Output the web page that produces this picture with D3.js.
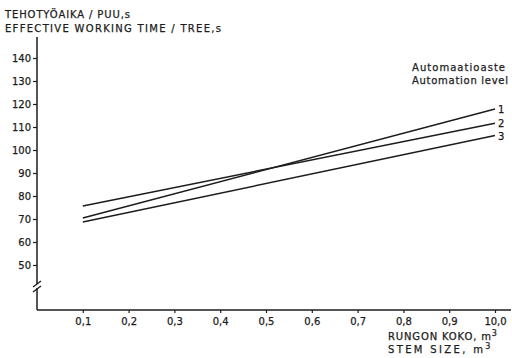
<!DOCTYPE html>
<html>
<head>
<meta charset="utf-8">
<script src="https://cdn.jsdelivr.net/npm/d3@7"></script>
<style>
  body { margin: 0; background: #fff; }
  svg text { font-family: 'DejaVu Sans', sans-serif; fill: #1c1c1c; stroke: #1c1c1c; stroke-width: 0.25px; }
</style>
</head>
<body>
<div id="viz"></div>
<script>
const width = 512;
const height = 358;

const ink = '#1c1c1c';

// Stem size categories (the last one is printed as 10,0 in the original)
const stemSizes = ['0,1', '0,2', '0,3', '0,4', '0,5', '0,6', '0,7', '0,8', '0,9', '10,0'];
const yTicks = [50, 60, 70, 80, 90, 100, 110, 120, 130, 140];

// Automation levels, values at first and last stem size
const levels = ['1', '2', '3'];
const level1 = [70.4, 117.8];
const level2 = [75.7, 111.6];
const level3 = [68.7, 106.3];

const series = [
  { name: levels[0], values: level1 },
  { name: levels[1], values: level2 },
  { name: levels[2], values: level3 },
];

const axisX = 37;
const axisY = 310;

const svg = d3
  .select('#viz')
  .append('svg')
  .attr('width', width)
  .attr('height', height);

svg.append('rect').attr('width', width).attr('height', height).attr('fill', '#fff');

// category index 0 sits at the origin, 0,1 is index 1
const xScale = d3.scaleLinear().domain([0, stemSizes.length]).range([axisX, 495]);
const yScale = d3.scaleLinear().domain([50, 140]).range([265, 58]);

// spaced-out lettering like the original stencil text
function label(x, y, str, len) {
  const t = svg.append('text').attr('x', x).attr('y', y).attr('font-size', 10);
  if (len) t.attr('textLength', len).attr('lengthAdjust', 'spacing');
  return t.text(str);
}

// Title
label(5, 18, 'TEHOTYÖAIKA / PUU,s', 125);
label(5, 32, 'EFFECTIVE WORKING TIME / TREE,s', 216);

// Y axis line
svg.append('line')
  .attr('x1', axisX).attr('x2', axisX)
  .attr('y1', 37).attr('y2', axisY)
  .attr('stroke', ink).attr('stroke-width', 1.5);

const yAxis = d3.axisLeft(yScale).tickValues(yTicks).tickSize(4).tickPadding(2);
const gy = svg.append('g')
  .attr('transform', `translate(${axisX},0)`)
  .call(yAxis);
gy.select('.domain').remove();
gy.selectAll('.tick line').attr('stroke', ink).attr('stroke-width', 1.2);
gy.selectAll('.tick text').attr('font-size', 10).attr('fill', ink).attr('font-family', null);

// break mark
const brk = svg.append('g');
brk.append('rect').attr('x', axisX - 2).attr('y', 284).attr('width', 4).attr('height', 4).attr('fill', '#fff');
[284, 289].forEach((yy) => {
  brk.append('line')
    .attr('x1', axisX - 4).attr('y1', yy + 3)
    .attr('x2', axisX + 4).attr('y2', yy - 3)
    .attr('stroke', ink).attr('stroke-width', 1.3);
});

// X axis
const xAxis = d3
  .axisBottom(xScale)
  .tickValues(d3.range(1, stemSizes.length + 1))
  .tickFormat((d) => stemSizes[d - 1])
  .tickSize(3)
  .tickPadding(5);
const gx = svg.append('g')
  .attr('transform', `translate(0,${axisY})`)
  .call(xAxis);
gx.select('.domain').remove();
gx.selectAll('.tick line').attr('stroke', ink).attr('stroke-width', 1.2);
gx.selectAll('.tick text').attr('font-size', 10).attr('fill', ink).attr('font-family', null);

svg.append('line')
  .attr('x1', axisX).attr('x2', 511)
  .attr('y1', axisY).attr('y2', axisY)
  .attr('stroke', ink).attr('stroke-width', 1.5);

// X axis title
const xt1 = svg.append('text').attr('x', 388).attr('y', 340).attr('font-size', 10);
xt1.append('tspan').attr('textLength', 103).attr('lengthAdjust', 'spacing').text('RUNGON KOKO, m');
xt1.append('tspan').attr('dy', -4).attr('font-size', 8).text('3');
const xt2 = svg.append('text').attr('x', 388).attr('y', 353).attr('font-size', 10);
xt2.append('tspan').attr('textLength', 95).attr('lengthAdjust', 'spacing').text('STEM SIZE, m');
xt2.append('tspan').attr('dy', -4).attr('font-size', 8).text('3');

// Lines
const line = d3
  .line()
  .x((d, i) => xScale(i === 0 ? 1 : stemSizes.length))
  .y((d) => yScale(d));

svg.selectAll('path.level')
  .data(series)
  .enter()
  .append('path')
  .attr('class', 'level')
  .attr('d', (d) => line(d.values))
  .attr('fill', 'none')
  .attr('stroke', ink)
  .attr('stroke-width', 1.5);

svg.selectAll('text.level')
  .data(series)
  .enter()
  .append('text')
  .attr('class', 'level')
  .attr('x', xScale(stemSizes.length) + 3)
  .attr('y', (d) => yScale(d.values[1]) + 4)
  .attr('font-size', 10)
  .text((d) => d.name);

// Legend title
label(412, 71, 'Automaatioaste', 93);
label(412, 84, 'Automation level', 96);
</script>
</body>
</html>
